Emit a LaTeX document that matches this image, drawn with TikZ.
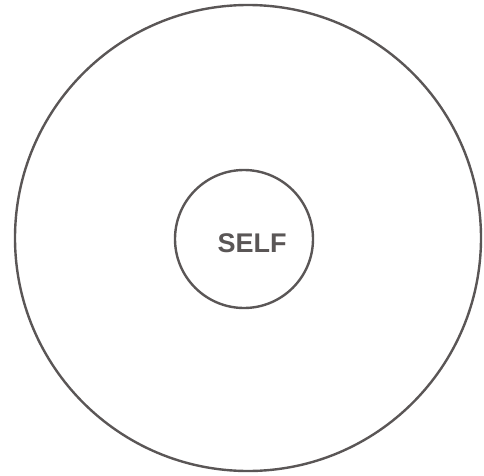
\documentclass[tikz,border=0pt]{standalone}
\usepackage{fontspec}
\setmainfont{Liberation Sans}
\definecolor{ink}{HTML}{5A5656}
\begin{document}
\begin{tikzpicture}[x=1pt,y=1pt,
  ring/.style={draw=ink,line width=2.4pt,circle,inner sep=0pt}]
\useasboundingbox (0,0) rectangle (484,475);
\node[ring,minimum size=466pt] (outer) at (248,237) {};
\node[ring,minimum size=138pt] (inner) at (244,236) {};
\node[text=ink,font=\fontsize{27}{29}\selectfont\bfseries] (self) at (252,232) {SELF};
\end{tikzpicture}
\end{document}
